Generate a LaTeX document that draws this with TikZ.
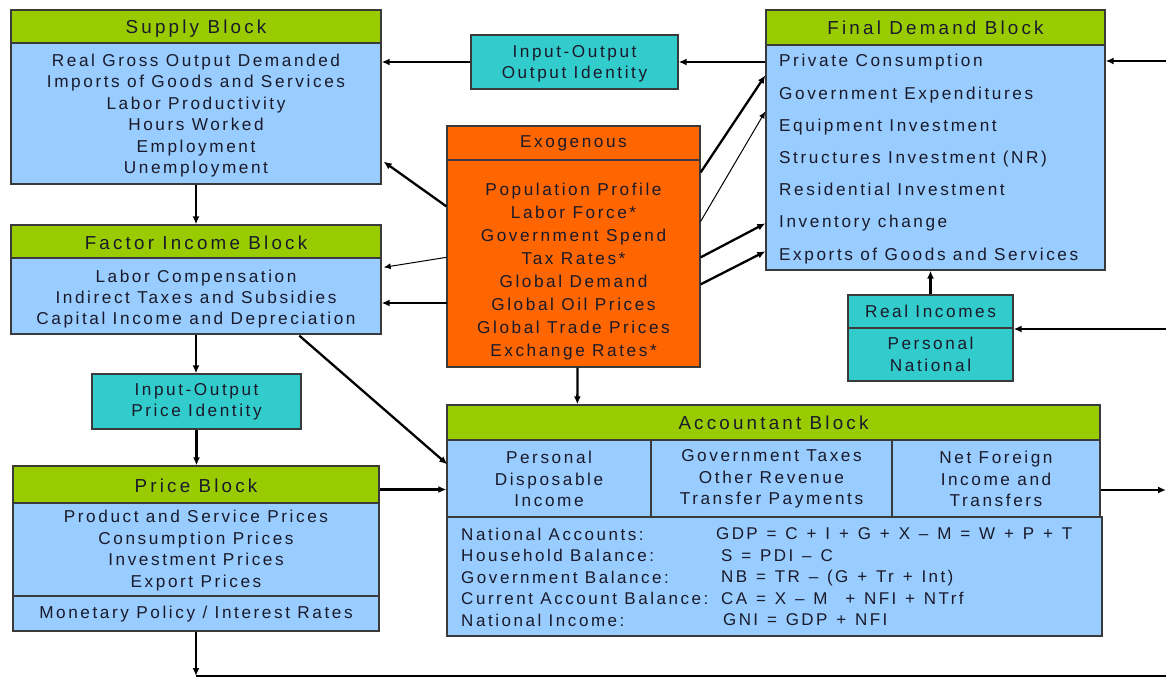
\documentclass[tikz,border=0pt]{standalone}
\usepackage{fontspec}
\setmainfont{Liberation Sans}[LetterSpace=15]
\newfontfamily\hdfont{Liberation Sans}[LetterSpace=17]
\newfontfamily\eqfont{Liberation Sans}[LetterSpace=14,WordSpace=1.25,Ligatures=TeX]
\usetikzlibrary{arrows.meta,calc}
\definecolor{hdgreen}{HTML}{99CC00}
\definecolor{bodyblue}{HTML}{99CCFF}
\definecolor{tealbox}{HTML}{33CCCC}
\definecolor{exorange}{HTML}{FF6600}
\definecolor{ink}{HTML}{1A1A2A}
\definecolor{edgecol}{HTML}{3A3A3A}
\newcommand\mybox[6]{\node[box,fill=#6,minimum width={(#4)-(#2)},minimum height={(#5)-(#3)}] (#1) at ({((#2)+(#4))/2},{((#3)+(#5))/2}) {};}
\begin{document}
\begin{tikzpicture}[x=1pt,y=-1pt,
  box/.style={draw=edgecol,line width=1.3pt,inner sep=0pt},
  txt/.style={text=ink,inner sep=0pt,align=center,font=\fontsize{17.2}{21.4}\selectfont},
  hd/.style={text=ink,inner sep=0pt,font=\hdfont\fontsize{18.8}{22}\selectfont},
  arr/.style={-{Latex[length=8pt,width=7pt]},line width=2.3pt,black},
  tarr/.style={-{Latex[length=7pt,width=6pt]},line width=1pt,black},
  plainln/.style={line width=2.3pt,black}]
\useasboundingbox (0,0) rectangle (1166,679);
\fill[white] (0,0) rectangle (1166,679);
% ---- boxes
\mybox{supH}{11}{10}{381}{43}{hdgreen}
\mybox{supB}{11}{43}{381}{184}{bodyblue}
\mybox{facH}{11}{225}{381}{258}{hdgreen}
\mybox{facB}{11}{258}{381}{334}{bodyblue}
\mybox{iop}{92}{374}{301}{429}{tealbox}
\mybox{prH}{13}{466}{379}{503}{hdgreen}
\mybox{prB}{13}{503}{379}{596}{bodyblue}
\mybox{prM}{13}{596}{379}{631}{bodyblue}
\mybox{ioo}{471}{35}{678}{89}{tealbox}
\mybox{exH}{447}{126}{700}{160}{exorange}
\mybox{exB}{447}{160}{700}{367}{exorange}
\mybox{fdH}{766}{10}{1105}{45}{hdgreen}
\mybox{fdB}{766}{45}{1105}{270}{bodyblue}
\mybox{riH}{848}{295}{1013}{328}{tealbox}
\mybox{riB}{848}{328}{1013}{381}{tealbox}
\mybox{acH}{447}{405}{1100}{440}{hdgreen}
\mybox{acA}{447}{440}{651}{517}{bodyblue}
\mybox{acB}{651}{440}{892}{517}{bodyblue}
\mybox{acC}{892}{440}{1100}{517}{bodyblue}
\mybox{acE}{447}{517}{1102}{636}{bodyblue}
% ---- texts
\node[hd] (supHt) at (196,29) {Supply Block};
\node[txt] (supBt) at (196,115.5) {Real Gross Output Demanded\\Imports of Goods and Services\\Labor Productivity\\Hours Worked\\Employment\\Unemployment};
\node[hd] (facHt) at (196,243) {Factor Income Block};
\node[txt] (facBt) at (196,299) {Labor Compensation\\Indirect Taxes and Subsidies\\Capital Income and Depreciation};
\node[txt] (iopt) at (196.5,402) {Input-Output\\Price Identity};
\node[hd] (prHt) at (196,485.5) {Price Block};
\node[txt] (prBt) at (196,550.5) {Product and Service Prices\\Consumption Prices\\Investment Prices\\Export Prices};
\node[txt] (prMt) at (196,614) {Monetary Policy / Interest Rates};
\node[txt] (ioot) at (574.5,64) {Input-Output\\Output Identity};
\node[txt] (exHt) at (573.5,143) {Exogenous};
\node[txt,font=\fontsize{17.2}{23.1}\selectfont] (exBt) at (573.5,271.5) {Population Profile\\Labor Force*\\Government Spend\\Tax Rates*\\Global Demand\\Global Oil Prices\\Global Trade Prices\\Exchange Rates*};
\node[hd] (fdHt) at (935.5,27.5) {Final Demand Block};
\node[txt,align=left,anchor=west,font=\fontsize{17.2}{32.2}\selectfont] (fdBt) at (779,159) {Private Consumption\\Government Expenditures\\Equipment Investment\\Structures Investment (NR)\\Residential Investment\\Inventory change\\Exports of Goods and Services};
\node[txt] (riHt) at (930.5,311.5) {Real Incomes};
\node[txt] (riBt) at (930.5,354.5) {Personal\\National};
\node[hd] (acHt) at (773.5,423) {Accountant Block};
\node[txt] (acAt) at (549,479) {Personal\\Disposable\\Income};
\node[txt] (acBt) at (771.5,479) {Government Taxes\\Other Revenue\\Transfer Payments};
\node[txt] (acCt) at (996,479) {Net Foreign\\Income and\\Transfers};
\node[txt,align=left,anchor=west,font=\fontsize{17}{21.5}\selectfont] (acL) at (461,577) {National Accounts:\\Household Balance:\\Government Balance:\\Current Account Balance:\\National Income:};
\node[txt,align=left,anchor=west,font=\eqfont\fontsize{17}{21.5}\selectfont] (acR) at (716,577) {GDP = C + I + G + X – M = W + P + T\\\hspace*{5pt}S = PDI – C\\\hspace*{5pt}NB = TR – (G + Tr + Int)\\\hspace*{5pt}CA = X – M \ + NFI + NTrf\\\hspace*{7pt}GNI = GDP + NFI};
% ---- edge coordinates
\coordinate (rFD) at (1166,61);
\coordinate (rRI) at (1166,329);
\coordinate (rAC) at (1166,490);
\coordinate (bot) at (196,676);
\coordinate (botR) at (1166,676);
\coordinate (exL) at (447,303);
% ---- connectors
\draw[arr] (ioo.east -| fdB.west) -- (ioo.east);
\draw[arr] (ioo.west) -- (ioo.west -| supB.east);
\draw[arr] (supB.south) -- (facH.north);
\draw[arr] (facB.south) -- (facB.south |- iop.north);
\draw[arr] (iop.south) -- (iop.south |- prH.north);
\draw[arr] (prM.south) -- (bot);
\draw[plainln] (bot) -- (botR);
\draw[arr] ([yshift=-5pt]prH.east) -- ([yshift=-5pt]prH.east -| acA.west);
\draw[arr] ($(facB.south west)+(289,1)$) -- ($(acA.north west)+(1,25)$);
\draw[arr] ($(exB.north west)+(0,47)$) -- ($(supB.south east)+(2,-23)$);
\draw[tarr] ($(exB.north west)+(0,98)$) -- ($(facB.north east)+(2,10)$);
\draw[arr] (exL) -- (exL -| facB.east);
\draw[arr] ($(exB.north east)+(0,13)$) -- ($(fdB.north west)+(0,31)$);
\draw[tarr] ($(exB.north east)+(0,62)$) -- ($(fdB.north west)+(0,67)$);
\draw[arr] ($(exB.north east)+(0,98)$) -- ($(fdB.north west)+(0,179)$);
\draw[arr] ($(exB.north east)+(0,125)$) -- ($(fdB.north west)+(0,207)$);
\draw[arr] ($(exB.south)+(4,0)$) -- ($(acH.north west)+(131,0)$);
\draw[arr] (riH.north) -- (riH.north |- fdB.south);
\draw[arr] (rFD) -- (rFD -| fdB.east);
\draw[arr] (rRI) -- (rRI -| riH.east);
\draw[arr] (rAC -| acC.east) -- (rAC);
\end{tikzpicture}
\end{document}
